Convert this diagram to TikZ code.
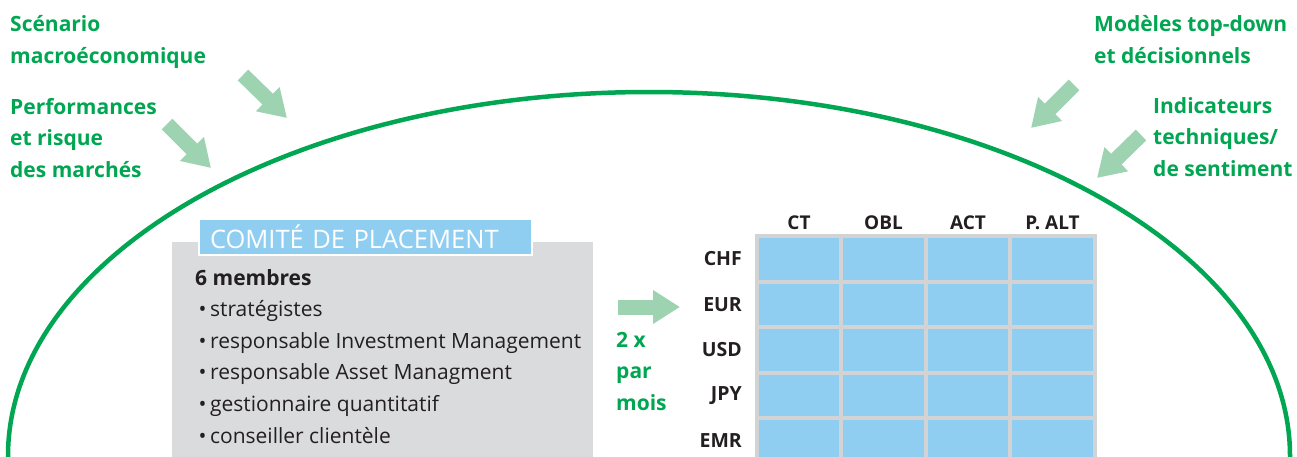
\documentclass[tikz,border=0pt]{standalone}
\usepackage{fontspec}
\setmainfont{Open Sans}
\usetikzlibrary{arrows.meta}
\definecolor{cpgreen}{RGB}{0,166,81}
\definecolor{arrowgreen}{RGB}{157,211,176}
\definecolor{boxgray}{RGB}{218,219,220}
\definecolor{gridgray}{RGB}{209,211,212}
\definecolor{cellblue}{RGB}{143,206,240}
\definecolor{darktext}{RGB}{35,31,32}
\tikzset{
  source/.style={anchor=base west, align=left, inner sep=0pt, text=cpgreen,
    font=\bfseries\fontsize{21}{31.5}\selectfont},
  feed/.style={draw=arrowgreen, line width=15pt, -{Triangle[length=27pt,width=32pt]}},
  cell/.style={draw=gridgray, fill=cellblue, line width=4pt, inner sep=0pt,
    minimum width=84.5pt, minimum height=45.4pt},
  currency/.style={anchor=east, inner sep=0pt, text=darktext,
    font=\bfseries\fontsize{19.5}{24}\selectfont},
  asset/.style={anchor=base, inner sep=0pt, text=darktext,
    font=\bfseries\fontsize{19}{24}\selectfont}
}
\begin{document}
\begin{tikzpicture}[x=1pt,y=-1pt]
\useasboundingbox (0,0) rectangle (1297,456);
\clip (0,0) rectangle (1297,456);
% sources (anchored on the last line)
\node[source] (scen) at (10,63) {Scénario\\macroéconomique};
\node[source] (perf) at (10,177) {Performances\\et risque\\des marchés};
\node[source] (mod) at (1094,63) {Modèles top-down\\et décisionnels};
\node[source] (ind) at (1153,176) {Indicateurs\\techniques/\\de sentiment};
\draw[cpgreen, line width=4.5pt] (649,456) ellipse [x radius=641, y radius=364];
\coordinate (a1) at (243,75);  \coordinate (b1) at (287,118);
\coordinate (a2) at (167,124); \coordinate (b2) at (211,168);
\coordinate (a3) at (1074,85); \coordinate (b3) at (1031,128);
\coordinate (a4) at (1141,135); \coordinate (b4) at (1097,178);
\foreach \i in {1,...,4} \draw[feed] (a\i) -- (b\i);
% comite
\fill[boxgray] (172,242) rectangle (593,460);
\node[fill=cellblue, draw=white, line width=2.5pt, text width=311pt, align=left,
  inner xsep=11pt, inner ysep=0pt, minimum height=36pt, text=white,
  font=\fontsize{25.5}{26}\selectfont] (comite) at (365.5,237)
  {COMITÉ DE PLACEMENT};
\node[anchor=base west, align=left, inner sep=0pt, text=darktext,
  font=\fontsize{21}{31.6}\selectfont] (membres) at (195,443)
  {\textbf{6 membres}\\
   \,\textbullet\,stratégistes\\
   \,\textbullet\,responsable Investment Management\\
   \,\textbullet\,responsable Asset Managment\\
   \,\textbullet\,gestionnaire quantitatif\\
   \,\textbullet\,conseiller clientèle};
% frequence
\coordinate (a5) at (618,307); \coordinate (b5) at (680,307);
\draw[feed] (a5) -- (b5);
\node[source] (freq) at (616,410) {2 x\\par\\mois};
% grille
\foreach \c [count=\i from 0] in {CT,OBL,ACT,P. ALT}
  \node[asset] (col\i) at (799+84.5*\i,229) {\c};
\foreach \r [count=\j from 0] in {CHF,EUR,USD,JPY,EMR}{
  \node[currency] (row\j) at (742,259+45.4*\j) {\r};
  \foreach \i in {0,...,3}
    \node[cell] (c\i\j) at (799+84.5*\i,259+45.4*\j) {};
}
\end{tikzpicture}
\end{document}
